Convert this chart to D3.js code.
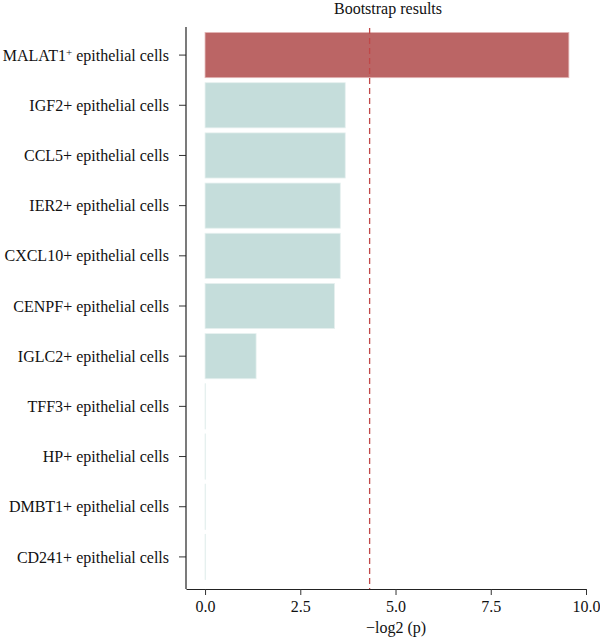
<!DOCTYPE html>
<html><head><meta charset="utf-8">
<script src="https://cdn.jsdelivr.net/npm/d3@7"></script>
<style>body{margin:0;background:#fff}svg{font-family:"Liberation Serif","DejaVu Serif",serif}</style>
</head><body><svg id="c" width="600" height="640"></svg>
<script>
const categories = ["MALAT1+ epithelial cells","IGF2+ epithelial cells","CCL5+ epithelial cells","IER2+ epithelial cells","CXCL10+ epithelial cells","CENPF+ epithelial cells","IGLC2+ epithelial cells","TFF3+ epithelial cells","HP+ epithelial cells","DMBT1+ epithelial cells","CD241+ epithelial cells"];
const values = [9.55, 3.68, 3.68, 3.55, 3.55, 3.4, 1.34, 0.01, 0.01, 0.01, 0.01];
const highlight = [true,false,false,false,false,false,false,false,false,false,false];
const xTicks = [0, 2.5, 5, 7.5, 10];
const threshold = 4.32;

const svg = d3.select("#c");
const x = d3.scaleLinear().domain([-0.5, 10]).range([186, 586]);
const y = d3.scaleBand().domain(categories).range([30, 582]).paddingInner(0.1).paddingOuter(0.05);

svg.append("g").selectAll("rect").data(categories).join("rect")
  .attr("x", x(0)).attr("y", d => y(d))
  .attr("width", (d,i) => Math.max(0.6, x(values[i]) - x(0)))
  .attr("height", y.bandwidth())
  .attr("fill", (d,i) => highlight[i] ? "#bb6565" : "#c5dddb")
  .attr("stroke", (d,i) => highlight[i] ? "#e3b5b5" : "#e6f0ef").attr("stroke-width", 0.8);

svg.append("line").attr("x1", x(threshold)).attr("x2", x(threshold)).attr("y1", 28).attr("y2", 589)
  .attr("stroke", "#c04848").attr("stroke-width", 1.3).attr("stroke-dasharray", "6,4");

const yAxis = svg.append("g").attr("transform", "translate(186,0)")
  .call(d3.axisLeft(y).tickSize(7).tickSizeOuter(0).tickFormat(() => ""));
yAxis.select(".domain").remove();
yAxis.selectAll(".tick line").attr("stroke", "#333");
svg.append("line").attr("x1", 186).attr("x2", 186).attr("y1", 27).attr("y2", 589).attr("stroke", "#222").attr("stroke-width", 1.2);

const lab = svg.append("g").selectAll("text").data(categories).join("text")
  .attr("x", 169).attr("y", d => y(d) + y.bandwidth()/2).attr("dy", "0.35em")
  .attr("text-anchor", "end").attr("font-size", 16).attr("fill", "#111");
lab.each(function(d, i) {
  const t = d3.select(this);
  if (i === 0) {
    t.append("tspan").text("MALAT1");
    t.append("tspan").text("+").attr("font-size", 11).attr("dy", "-0.45em");
    t.append("tspan").text(" epithelial cells").attr("dy", "0.3em");
  } else t.text(d);
});

const xAxis = svg.append("g").attr("transform", "translate(0,589)")
  .call(d3.axisBottom(x).tickValues(xTicks).tickFormat(d3.format(".1f")).tickSize(6).tickPadding(6).tickSizeOuter(0));
xAxis.select(".domain").attr("stroke", "#222").attr("stroke-width", 1.2);
xAxis.selectAll(".tick line").attr("stroke", "#333");
xAxis.selectAll(".tick text").attr("font-size", 16).attr("fill", "#111").attr("font-family", "Liberation Serif, serif");

svg.append("text").attr("x", 396).attr("y", 633).attr("text-anchor", "middle").attr("font-size", 16).attr("fill", "#111").text("\u2212log2 (p)");
svg.append("text").attr("x", 388).attr("y", 14).attr("text-anchor", "middle").attr("font-size", 16).attr("fill", "#111").text("Bootstrap results");
</script></body></html>
